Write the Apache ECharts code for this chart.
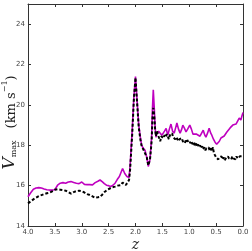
<!DOCTYPE html>
<html>
<head>
<meta charset="utf-8">
<script src="https://cdn.jsdelivr.net/npm/echarts@6/dist/echarts.min.js"></script>
<style>html,body{margin:0;padding:0;background:#fff;}#c{width:252px;height:251px;}</style>
</head>
<body>
<div id="c"></div>
<script>
const xTicks = [4.0, 3.5, 3.0, 2.5, 2.0, 1.5, 1.0, 0.5, 0.0];
const yTicks = [14, 16, 18, 20, 22, 24];

const zM = [4.00,3.95,3.90,3.85,3.80,3.75,3.70,3.65,3.60,3.55,3.50,3.45,3.40,3.35,3.30,3.25,3.20,3.15,3.10,3.05,3.00,2.95,2.90,2.85,2.80,2.75,2.70,2.66,2.62,2.58,2.54,2.50,2.46,2.42,2.38,2.34,2.30,2.27,2.24,2.20,2.16,2.12,2.10,2.06,2.03,2.00,1.97,1.94,1.91,1.885,1.855,1.823,1.79,1.762,1.73,1.70,1.685,1.669,1.65,1.635,1.62,1.60,1.57,1.54,1.51,1.49,1.46,1.43,1.40,1.37,1.34,1.31,1.28,1.25,1.23,1.20,1.17,1.14,1.12,1.09,1.06,1.03,0.99,0.96,0.93,0.90,0.87,0.84,0.80,0.77,0.74,0.71,0.69,0.66,0.63,0.60,0.58,0.55,0.52,0.49,0.47,0.44,0.41,0.38,0.35,0.32,0.30,0.27,0.24,0.21,0.19,0.16,0.13,0.10,0.07,0.04,0.02,0.00];
const vM = [15.45,15.65,15.82,15.88,15.90,15.88,15.83,15.80,15.78,15.78,15.80,16.02,16.12,16.15,16.12,16.18,16.20,16.16,16.12,16.10,16.18,16.06,16.05,16.05,16.04,16.15,16.22,16.28,16.20,16.10,16.02,16.00,15.96,16.02,16.12,16.30,16.45,16.65,16.85,16.60,16.45,16.40,17.00,18.80,20.40,21.40,20.20,19.00,18.40,18.00,17.85,17.75,17.40,16.95,17.30,18.40,19.80,20.75,19.80,18.90,18.40,18.60,18.70,18.67,18.50,18.50,18.70,18.84,18.50,18.80,19.05,18.70,18.60,18.90,19.10,18.80,18.60,18.80,19.00,18.85,18.66,18.80,19.00,18.80,18.55,18.60,18.56,18.50,18.45,18.50,18.75,18.50,18.40,18.60,18.84,18.60,18.50,18.30,18.15,18.05,18.00,18.20,18.36,18.30,18.46,18.55,18.66,18.60,18.86,18.80,19.00,18.95,19.05,19.20,19.35,19.25,19.45,19.62];

const zB = [4.00,3.95,3.90,3.85,3.80,3.75,3.70,3.65,3.60,3.55,3.50,3.45,3.40,3.35,3.30,3.25,3.20,3.15,3.10,3.05,3.00,2.95,2.90,2.85,2.80,2.75,2.70,2.66,2.62,2.57,2.52,2.47,2.43,2.38,2.33,2.30,2.27,2.24,2.21,2.18,2.15,2.12,2.10,2.06,2.03,2.00,1.97,1.94,1.91,1.885,1.855,1.823,1.79,1.762,1.73,1.70,1.685,1.669,1.65,1.635,1.62,1.60,1.58,1.56,1.54,1.52,1.50,1.48,1.46,1.44,1.42,1.40,1.38,1.36,1.34,1.32,1.30,1.28,1.26,1.24,1.22,1.20,1.18,1.16,1.14,1.12,1.10,1.08,1.06,1.04,1.02,1.00,0.98,0.96,0.94,0.92,0.90,0.88,0.86,0.84,0.82,0.80,0.78,0.76,0.74,0.72,0.70,0.68,0.66,0.64,0.62,0.60,0.58,0.56,0.54,0.52,0.50,0.48,0.46,0.44,0.42,0.40,0.38,0.36,0.34,0.32,0.30,0.28,0.26,0.24,0.22,0.20,0.18,0.16,0.14,0.12,0.10,0.08,0.06,0.04,0.02,0.00];
const vB = [15.12,15.22,15.32,15.40,15.48,15.53,15.58,15.62,15.65,15.72,15.80,15.82,15.80,15.78,15.75,15.68,15.60,15.68,15.73,15.75,15.72,15.66,15.58,15.54,15.47,15.40,15.42,15.44,15.55,15.70,15.80,15.87,15.92,15.95,16.00,16.02,16.03,16.15,16.08,16.03,16.15,16.28,16.80,18.60,20.30,21.35,20.10,18.90,18.30,17.95,17.80,17.72,17.40,17.00,17.30,18.20,19.30,19.85,19.40,18.80,18.45,18.70,18.50,18.55,18.20,18.45,18.50,18.35,18.50,18.40,18.55,18.45,18.30,18.50,18.45,18.60,18.40,18.45,18.30,18.40,18.35,18.20,18.30,18.25,18.35,18.20,18.25,18.10,18.30,18.20,18.15,18.25,18.10,18.20,18.05,18.15,18.00,18.10,17.95,18.05,17.90,18.00,17.85,17.95,17.80,17.90,17.75,17.85,17.80,17.90,17.75,17.85,17.70,17.90,17.60,17.50,17.40,17.45,17.30,17.40,17.35,17.45,17.30,17.40,17.25,17.35,17.30,17.45,17.35,17.40,17.30,17.45,17.35,17.40,17.30,17.45,17.35,17.40,17.45,17.40,17.45,17.40];

const mData = zM.map((z, i) => [z, vM[i]]);
const bData = zB.map((z, i) => [z, vB[i]]);

const axisCol = '#333';
const chart = echarts.init(document.getElementById('c'), null, {renderer: 'canvas'});
const xBase = {
  type: 'value', min: 0, max: 4, interval: 0.5, inverse: true,
  axisLine: {show: true, onZero: false, lineStyle: {color: axisCol, width: 1}},
  axisTick: {show: true, inside: true, length: 3, lineStyle: {color: axisCol}},
  splitLine: {show: false}
};
const yBase = {
  type: 'value', min: 14, max: 25, interval: 2,
  axisLine: {show: true, onZero: false, lineStyle: {color: axisCol, width: 1}},
  axisTick: {show: true, inside: true, length: 3, lineStyle: {color: axisCol}},
  splitLine: {show: false}
};
chart.setOption({
  animation: false,
  backgroundColor: '#fff',
  grid: {left: 28, right: 9, top: 4, bottom: 25, containLabel: false, outerBoundsMode: 'none'},
  xAxis: [
    Object.assign({}, xBase, {
      position: 'bottom',
      axisLabel: {show: true, fontSize: 7, color: '#444', margin: 3, fontFamily: 'DejaVu Sans',
        formatter: v => xTicks.includes(v) ? v.toFixed(1) : ''},
      name: 'z', nameLocation: 'middle', nameGap: 12, nameMoveOverlap: false,
      nameTextStyle: {fontSize: 14, fontStyle: 'italic', fontFamily: 'DejaVu Serif', color: '#222'}
    }),
    Object.assign({}, xBase, {position: 'top', axisLabel: {show: false}})
  ],
  yAxis: [
    Object.assign({}, yBase, {
      position: 'left',
      axisLabel: {show: true, fontSize: 7, color: '#444', margin: 3, fontFamily: 'DejaVu Sans',
        formatter: v => yTicks.includes(v) ? String(v) : ''},
      name: '{v|V}{s|max}{t|(km s}{p|−1}{t|)}', nameLocation: 'middle', nameRotate: 90, nameGap: 10,
      nameMoveOverlap: false,
      nameTextStyle: {
        fontSize: 13, fontFamily: 'DejaVu Serif', color: '#222', padding: [0, 15, 0, 0],
        rich: {
          v: {fontSize: 17, fontStyle: 'italic', fontFamily: 'DejaVu Serif', color: '#222', verticalAlign: 'bottom'},
          s: {fontSize: 8, fontFamily: 'DejaVu Serif', color: '#222', verticalAlign: 'bottom', padding: [0, 12, 0, 0]},
          t: {fontSize: 13, fontFamily: 'DejaVu Serif', color: '#222', verticalAlign: 'bottom'},
          p: {fontSize: 8, fontFamily: 'DejaVu Serif', color: '#222', verticalAlign: 'top'}
        }
      }
    }),
    Object.assign({}, yBase, {position: 'right', axisLabel: {show: false}})
  ],
  series: [
    {type: 'line', data: mData, showSymbol: false, symbol: 'none', z: 2,
      lineStyle: {color: '#bf00bf', width: 1.6}},
    {type: 'line', data: bData, showSymbol: false, symbol: 'none', z: 3,
      lineStyle: {color: '#000', width: 2, type: [3, 2]}}
  ]
});
</script>
</body>
</html>
